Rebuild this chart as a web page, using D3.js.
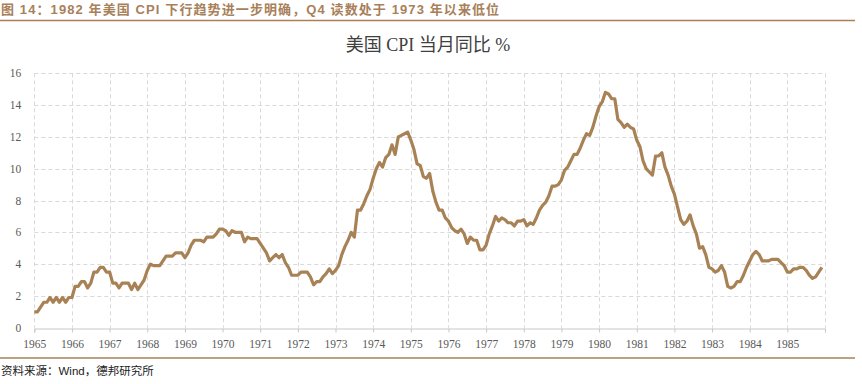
<!DOCTYPE html>
<html><head><meta charset="utf-8">
<script src="https://cdn.jsdelivr.net/npm/d3@7"></script>
<style>
body{margin:0;background:#fff;}
svg{display:block;}
</style></head>
<body>
<svg id="c" width="862" height="384"></svg>
<script>
const years = [1965,1966,1967,1968,1969,1970,1971,1972,1973,1974,1975,1976,1977,1978,1979,1980,1981,1982,1983,1984,1985];
const yTicks = [0,2,4,6,8,10,12,14,16];
const cpi1965 = [1.0,1.0,1.3,1.6,1.6,1.9,1.6,1.9,1.6,1.9,1.6,1.9];
const cpi1966 = [1.9,2.6,2.6,2.9,2.9,2.5,2.8,3.5,3.5,3.8,3.8,3.5];
const cpi1967 = [3.5,2.8,2.8,2.5,2.8,2.8,2.8,2.4,2.8,2.4,2.7,3.0];
const cpi1968 = [3.6,4.0,3.9,3.9,3.9,4.2,4.5,4.5,4.5,4.7,4.7,4.7];
const cpi1969 = [4.4,4.7,5.2,5.5,5.5,5.5,5.4,5.7,5.7,5.7,5.9,6.2];
const cpi1970 = [6.2,6.1,5.8,6.1,6.0,6.0,6.0,5.4,5.7,5.6,5.6,5.6];
const cpi1971 = [5.3,5.0,4.7,4.2,4.4,4.6,4.4,4.6,4.1,3.8,3.3,3.3];
const cpi1972 = [3.3,3.5,3.5,3.5,3.2,2.7,2.9,2.9,3.2,3.4,3.7,3.4];
const cpi1973 = [3.6,3.9,4.6,5.1,5.5,6.0,5.7,7.4,7.4,7.8,8.3,8.7];
const cpi1974 = [9.4,10.0,10.4,10.1,10.7,10.9,11.5,10.9,12.0,12.1,12.2,12.3];
const cpi1975 = [11.8,11.2,10.3,10.2,9.5,9.4,9.7,8.6,7.9,7.4,7.4,6.9];
const cpi1976 = [6.7,6.3,6.1,6.0,6.2,5.9,5.3,5.7,5.5,5.5,4.9,4.9];
const cpi1977 = [5.2,5.9,6.4,7.0,6.7,6.9,6.8,6.6,6.6,6.4,6.7,6.7];
const cpi1978 = [6.8,6.4,6.6,6.5,6.9,7.4,7.7,7.9,8.3,8.9,8.9,9.0];
const cpi1979 = [9.3,9.9,10.1,10.5,10.9,10.9,11.3,11.8,12.2,12.1,12.6,13.3];
const cpi1980 = [13.9,14.2,14.8,14.7,14.4,14.4,13.1,12.9,12.6,12.8,12.6,12.5];
const cpi1981 = [11.8,11.4,10.5,10.0,9.8,9.6,10.8,10.8,11.0,10.1,9.6,8.9];
const cpi1982 = [8.4,7.6,6.8,6.5,6.7,7.1,6.4,5.9,5.0,5.1,4.6,3.8];
const cpi1983 = [3.7,3.5,3.6,3.9,3.5,2.6,2.5,2.6,2.9,2.9,3.3,3.8];
const cpi1984 = [4.2,4.6,4.8,4.6,4.2,4.2,4.2,4.3,4.3,4.3,4.1,3.9];
const cpi1985 = [3.5,3.5,3.7,3.7,3.8,3.8,3.6,3.3,3.1,3.2,3.5,3.8];

const values = [].concat(cpi1965,cpi1966,cpi1967,cpi1968,cpi1969,cpi1970,cpi1971,cpi1972,cpi1973,cpi1974,cpi1975,cpi1976,cpi1977,cpi1978,cpi1979,cpi1980,cpi1981,cpi1982,cpi1983,cpi1984,cpi1985);

const svg = d3.select("#c");
const brown = "#a8805a";
const lineColor = "#a88255";

// header
svg.append("text").attr("x",1).attr("y",13.5)
  .attr("font-family","Liberation Sans, Noto Sans CJK SC, sans-serif")
  .attr("font-weight","bold").attr("font-size",13).attr("letter-spacing",1.1).attr("fill",brown)
  .text("图 14：1982 年美国 CPI 下行趋势进一步明确，Q4 读数处于 1973 年以来低位");
svg.append("line").attr("x1",0).attr("x2",855).attr("y1",20.5).attr("y2",20.5)
  .attr("stroke",brown).attr("stroke-width",1.5);

// chart title
svg.append("text").attr("x",428).attr("y",51).attr("text-anchor","middle")
  .attr("font-family","Liberation Serif, Noto Sans CJK SC, serif")
  .attr("font-size",18).attr("fill","#404040")
  .text("美国 CPI 当月同比 %");

const x = d3.scaleLinear().domain([0, 252]).range([34.3, 825]);
const y = d3.scaleLinear().domain([0, 16]).range([327.7, 73.3]);

const g = svg.append("g");
// horizontal grid
g.selectAll(".hg").data(yTicks.filter(d=>d>0)).enter().append("line")
  .attr("x1",x(0)).attr("x2",x(252)).attr("y1",d=>Math.round(y(d))+0.5).attr("y2",d=>Math.round(y(d))+0.5)
  .attr("stroke","#d9d9d9").attr("stroke-dasharray","4,3");
// vertical grid
const vt = d3.range(0,253,12);
g.selectAll(".vg").data(vt).enter().append("line")
  .attr("x1",d=>Math.round(x(d))+0.5).attr("x2",d=>Math.round(x(d))+0.5)
  .attr("y1",y(16)).attr("y2",y(0))
  .attr("stroke","#d9d9d9").attr("stroke-dasharray","4,3");

// x axis
const xAxis = d3.axisBottom(x).tickValues(vt).tickSize(4)
  .tickFormat(d => d < 252 ? years[d/12] : "");
const xa = svg.append("g").attr("transform",`translate(0,${Math.round(y(0))+0.5})`).call(xAxis);
xa.select(".domain").attr("stroke","#c8c8c8");
xa.selectAll(".tick line").attr("stroke","#c8c8c8");
xa.selectAll(".tick text").attr("font-family","Liberation Serif, serif").attr("font-size",11.5)
  .attr("fill","#595959").attr("dy","1.05em");

// y axis labels
const yAxis = d3.axisLeft(y).tickValues(yTicks).tickSize(0).tickFormat(d3.format("d"));
const ya = svg.append("g").attr("transform",`translate(${x(0)-8},0)`).call(yAxis);
ya.select(".domain").remove();
ya.selectAll(".tick text").attr("font-family","Liberation Serif, serif").attr("font-size",11.5)
  .attr("fill","#595959").attr("x",-5);

// line
const line = d3.line().x((d,i)=>x(i)).y(d=>y(d));
svg.append("path").datum(values).attr("d",line)
  .attr("fill","none").attr("stroke",lineColor).attr("stroke-width",3.2)
  .attr("stroke-linejoin","round");

// footer
svg.append("line").attr("x1",0).attr("x2",855).attr("y1",358).attr("y2",358)
  .attr("stroke",brown).attr("stroke-width",1.5);
svg.append("text").attr("x",1).attr("y",375)
  .attr("font-family","Liberation Sans, Noto Sans CJK SC, sans-serif")
  .attr("font-size",11.5).attr("fill","#222")
  .text("资料来源：Wind，德邦研究所");
</script>
</body></html>
